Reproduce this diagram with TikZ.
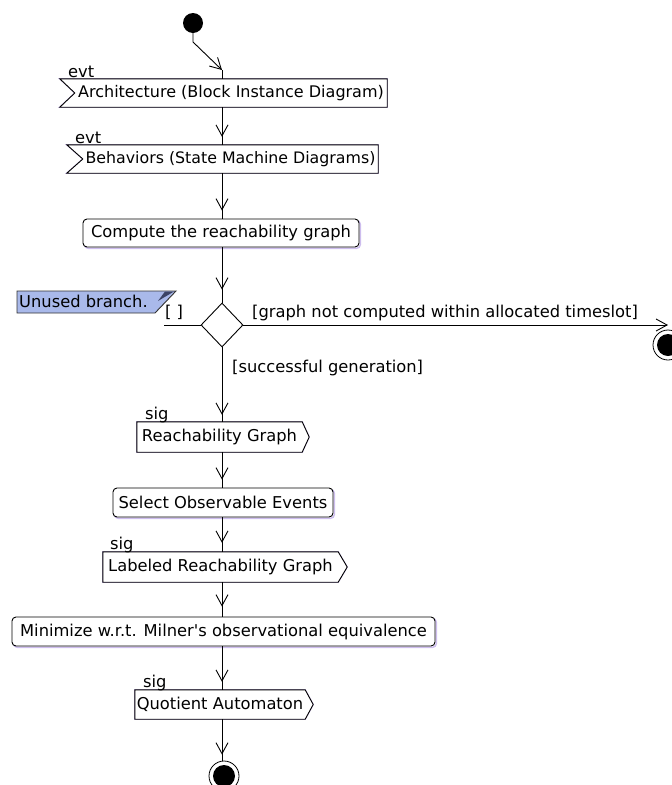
\documentclass[tikz,border=0pt]{standalone}
\usepackage{fontspec}
\setmainfont{DejaVu Sans}
\usetikzlibrary{arrows.meta,shapes.geometric}
\definecolor{shade}{HTML}{CDBDEE}
\definecolor{notefill}{HTML}{A9B9EA}
\definecolor{notefold}{HTML}{3C4466}
\pgfdeclarelayer{bg}
\pgfsetlayers{bg,main}

\begin{document}
\begin{tikzpicture}[x=1pt,y=-1pt,
  txt/.style={font=\fontsize{16.3}{19}\selectfont, inner sep=0pt},
  body/.style={txt},
  rbox/.style={txt, draw=black, line width=0.9pt, fill=white, rounded corners=4pt,
    preaction={draw=shade, line width=1.4pt, transform canvas={xshift=1.4pt,yshift=-1.4pt}}},
  outline/.style={draw=black, line width=0.9pt, fill=white, line join=miter},
  shadowline/.style={draw=shade, line width=1.4pt, shift={(1.4,1.4)}},
  tag/.style={txt, anchor=base west},
  link/.style={draw=black, line width=0.9pt},
  tip/.style={-{Straight Barb[length=11pt,width=12pt]}},
  flow/.style={link, postaction={draw, tip, shorten >=#1}},
  flow/.default=8pt,
  finalnode/.style={circle, draw=black, line width=0.8pt, fill=white, minimum size=30pt, inner sep=0pt,
    path picture={\fill[black] (path picture bounding box.center) circle (11pt);}}]
\useasboundingbox (0,0) rectangle (672,785);

% vertical axis of the flow
\coordinate (col) at (222,0);

% initial node
\node[circle, fill=black, minimum size=20pt, inner sep=0pt] (start) at (193,23) {};
\coordinate (bend) at (193,42);
\coordinate (tipA) at (222,70);

% accept-event actions
\node[body, font=\fontsize{16}{19}\selectfont, minimum width=327pt, minimum height=28pt] (arch) at (223.5,93)
  {\hspace{15pt}Architecture (Block Instance Diagram)};
\node[tag] (archtag) at (68,77) {evt};
\node[body, font=\fontsize{15.8}{19}\selectfont, minimum width=311pt, minimum height=28pt] (behav) at (222.5,159)
  {\hspace{16pt}Behaviors (State Machine Diagrams)};
\node[tag] (behavtag) at (75,143) {evt};

% actions
\node[rbox, minimum width=276pt, minimum height=28pt] (compute) at (221,233) {Compute the reachability graph};

% decision
\node[diamond, draw=black, line width=0.9pt, fill=white, minimum width=42pt, minimum height=44pt, inner sep=0pt] (dec) at (222,325) {};
\coordinate (leftend) at (164,325);
\coordinate (rightend) at (668,325);
\node[txt, anchor=base] (emptyguard) at (174,317) {[ ]};
\node[txt, anchor=base west] (failguard) at (252,317) {[graph not computed within allocated timeslot]};
\node[txt, anchor=base west] (okguard) at (232,372) {[successful generation]};

% note attached to the empty branch
\fill[notefill] (17,291) -- (176,291) -- (155,313) -- (17,313) -- cycle;
\draw[draw=black!80, line width=0.9pt] (17,291) -- (176,291) -- (155,313) -- (17,313) -- cycle;
\fill[notefold] (158,301) -- (165,291.5) -- (174,291.5) -- cycle;
\node[txt, anchor=base west] (note) at (19,307) {Unused branch.};

% send-signal actions
\node[body, minimum width=165pt, minimum height=30pt] (reach) at (219.5,437) {Reachability Graph};
\node[tag] (reachtag) at (145,419) {sig};
\node[rbox, minimum width=220pt, minimum height=29pt] (select) at (223,502.5) {Select Observable Events};
\node[body, minimum width=235pt, minimum height=30pt] (labeled) at (220.5,567) {Labeled Reachability Graph};
\node[tag] (labeledtag) at (110,549) {sig};
\node[rbox, minimum width=423pt, minimum height=29pt] (minimize) at (223.5,631.5) {Minimize w.r.t. Milner\textquotesingle s observational equivalence};
\node[body, minimum width=170pt, minimum height=29pt] (quot) at (220,704.5) {Quotient Automaton};
\node[tag] (quottag) at (143,687) {sig};

% final nodes
\node[finalnode] (endok) at (224,776) {};
\node[finalnode] (endfail) at (668,345) {};

% outlines of the event and signal shapes
\begin{pgfonlayer}{bg}
  \foreach \n/\d in {arch/15, behav/16} {
    \draw[shadowline] (\n.north west) -- (\n.north east) -- (\n.south east) -- (\n.south west) -- ([xshift=\d pt]\n.west) -- cycle;
    \draw[outline] (\n.north west) -- (\n.north east) -- (\n.south east) -- (\n.south west) -- ([xshift=\d pt]\n.west) -- cycle;
  }
  \foreach \n/\d in {reach/7, labeled/9, quot/8} {
    \draw[shadowline] (\n.north west) -- (\n.north east) -- ([xshift=\d pt]\n.east) -- (\n.south east) -- (\n.south west) -- cycle;
    \draw[outline] (\n.north west) -- (\n.north east) -- ([xshift=\d pt]\n.east) -- (\n.south east) -- (\n.south west) -- cycle;
  }
\end{pgfonlayer}

% connectors
\draw[link, tip] (start.south) -- (bend) -- (tipA);
\draw[link] (tipA) -- (arch.north -| col);
\draw[flow] (arch.south -| col) -- (behav.north -| col);
\draw[flow] (behav.south -| col) -- (compute.north -| col);
\draw[flow=13pt] (compute.south -| col) -- (dec.north);
\draw[link] (dec.west) -- (leftend);
\draw[link, tip] (dec.east) -- (rightend);
\draw[flow=7pt] (dec.south) -- (reach.north -| col);
\draw[flow] (reach.south -| col) -- (select.north -| col);
\draw[flow=9pt] (select.south -| col) -- (labeled.north -| col);
\draw[flow=10pt] (labeled.south -| col) -- (minimize.north -| col);
\draw[flow] (minimize.south -| col) -- (quot.north -| col);
\draw[flow=6pt] (quot.south -| col) -- (endok.north -| col);
\end{tikzpicture}
\end{document}
